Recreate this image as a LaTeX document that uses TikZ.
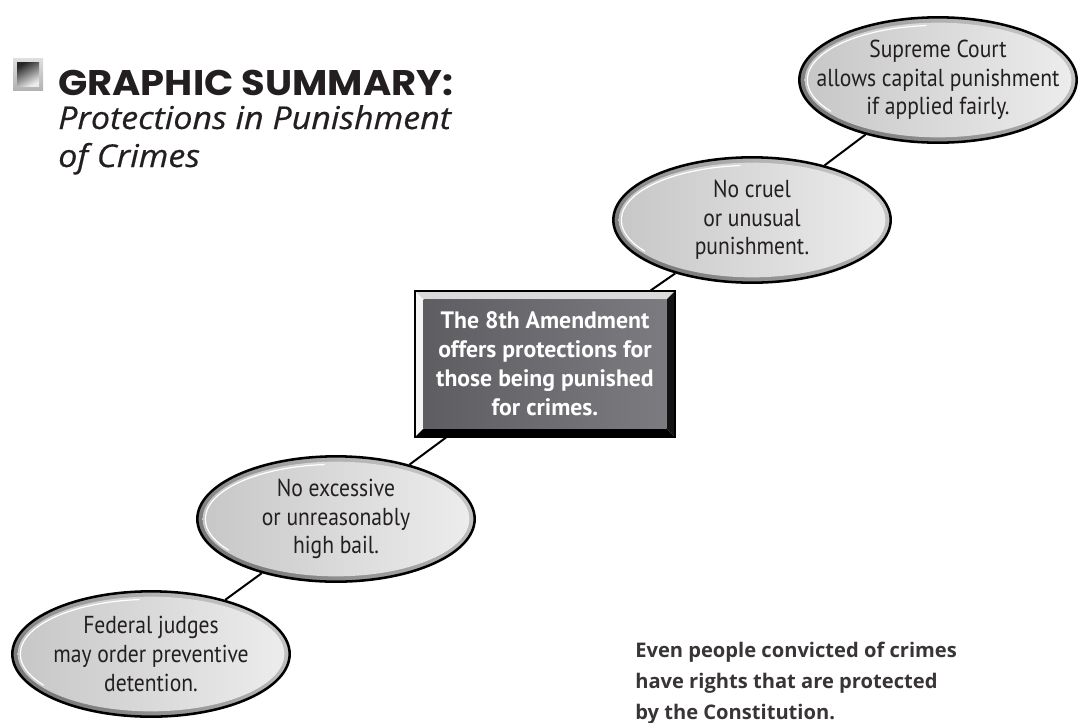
\documentclass[tikz,border=0pt]{standalone}
\usepackage{fontspec}
\setmainfont{PT Sans}
\newfontfamily\narrowfont[FakeStretch=0.88]{PT Sans}
\newfontfamily\headfont[FakeStretch=1.08]{Poppins}
\newfontfamily\widefont{Open Sans}
\newfontfamily\slantfont[FakeStretch=1.08,FakeBold=0.5]{Open Sans}
\usetikzlibrary{shapes.geometric, calc}
\definecolor{ink}{HTML}{231F20}
\definecolor{ringlight}{HTML}{C4C4C4}
\definecolor{ringdark}{HTML}{7A7A7A}
\definecolor{facedark}{HTML}{C6C6C6}
\definecolor{facelight}{HTML}{EDEDED}
\definecolor{boxdark}{HTML}{5E5E62}
\definecolor{boxlight}{HTML}{7C7C80}

\begin{document}
\begin{tikzpicture}[x=0.75pt,y=-0.75pt,bubble/.style={ellipse,draw=black,line width=1.9pt,minimum width=208pt,minimum height=94pt,inner xsep=-22pt,inner ysep=0pt,align=center,text=ink,font=\narrowfont\fontsize{18.4}{21.5}\selectfont,top color=ringlight,bottom color=ringdark,shading angle=-40,path picture={\shade[left color=facedark,right color=facelight] (path picture bounding box.center) ellipse [x radius=100pt, y radius=43pt]; \draw[white,line width=0.9pt] ($(path picture bounding box.center)+(95:98pt and 41pt)$) arc [start angle=95, end angle=215, x radius=98pt, y radius=41pt];}},panel/.style={rectangle,draw=black,line width=0.8pt,minimum width=195pt,minimum height=109.5pt,inner sep=0pt,align=center,text=white,font=\bfseries\fontsize{17.8}{21.75}\selectfont,path picture={\path (path picture bounding box.north west) coordinate (pnw) (path picture bounding box.north east) coordinate (pne) (path picture bounding box.south west) coordinate (psw) (path picture bounding box.south east) coordinate (pse); \fill[gray!30] (pnw) -- (pne) -- ($(pne)+(-6.5pt,-6.5pt)$) -- ($(pnw)+(6.5pt,-6.5pt)$) -- cycle; \fill[gray!8] (pnw) -- ($(pnw)+(6.5pt,-6.5pt)$) -- ($(psw)+(6.5pt,6.5pt)$) -- (psw) -- cycle; \fill[black] (psw) -- ($(psw)+(6.5pt,6.5pt)$) -- ($(pse)+(-6.5pt,6.5pt)$) -- (pse) -- cycle; \fill[gray!15!black] (pse) -- ($(pse)+(-6.5pt,6.5pt)$) -- ($(pne)+(-6.5pt,-6.5pt)$) -- (pne) -- cycle; \shade[left color=boxdark,right color=boxlight] ($(pnw)+(6.5pt,-6.5pt)$) rectangle ($(pse)+(-6.5pt,6.5pt)$);}},link/.style={draw=black,line width=1.5pt},heading/.style={font=\headfont\bfseries\fontsize{26.7}{30}\selectfont,text=ink,inner sep=0pt},subheading/.style={font=\slantfont\itshape\fontsize{23.6}{28.5}\selectfont,text=ink,inner sep=0pt,align=left},note/.style={font=\widefont\bfseries\fontsize{15.1}{23.25}\selectfont,text=ink!90,inner sep=0pt,align=left}]
\useasboundingbox (0,0) rectangle (1082,722);
% title block
\shade[top color=gray!25,bottom color=gray!60] (13,58) rectangle (43,90);
\shade[top color=black!85,bottom color=gray!15,shading angle=30] (17,62) rectangle (39,86);
\node[heading, anchor=base west] (title) at (58,95) {GRAPHIC SUMMARY:};
\node[subheading, anchor=base west] (subtitle) at (58,167) {Protections in Punishment\\of Crimes};
% chain of protections
\node[bubble] (detain) at (151,654) {Federal judges\\may order preventive\\detention.};
\node[bubble] (bail) at (336,519) {No excessive\\or unreasonably\\high bail.};
\node[panel] (amend) at (545,364) {The 8th Amendment\\offers protections for\\those being punished\\for crimes.};
\node[bubble] (cruel) at (752,220) {No cruel\\or unusual\\punishment.};
\node[bubble] (court) at (938,80) {Supreme Court\\allows capital punishment\\if applied fairly.};
\draw[link] (detain) -- (bail);
\draw[link] (bail) -- (amend);
\draw[link] (amend) -- (cruel);
\draw[link] (cruel) -- (court);
\node[note, anchor=base west] (rights) at (635,719) {Even people convicted of crimes\\have rights that are protected\\by the Constitution.};
\end{tikzpicture}
\end{document}
